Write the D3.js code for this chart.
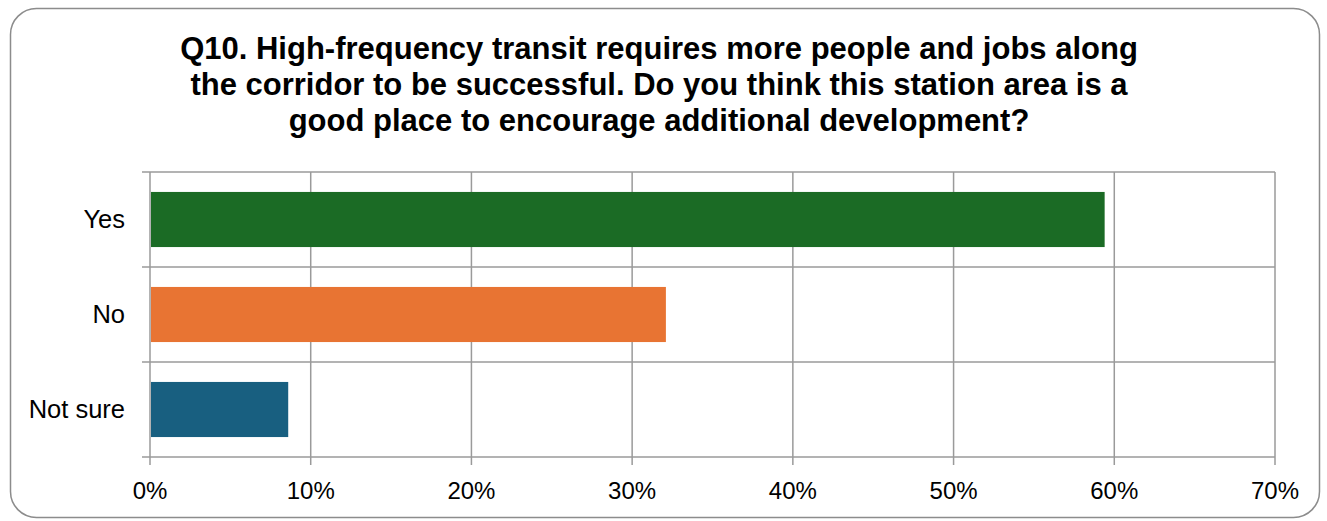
<!DOCTYPE html>
<html>
<head>
<meta charset="utf-8">
<script src="https://cdn.jsdelivr.net/npm/d3@7/dist/d3.min.js"></script>
<style>
  html, body { margin: 0; padding: 0; background: #fff; }
  svg { display: block; font-family: "Liberation Sans", Arial, sans-serif; }
</style>
</head>
<body>
<svg id="chart" width="1327" height="521"></svg>
<script>
// Survey responses (share of respondents)
const categories = ["Yes", "No", "Not sure"];
const values = [0.594, 0.321, 0.086];
const barColors = ["#1b6b25", "#e87433", "#185f80"];
const tickValues = [0, 0.1, 0.2, 0.3, 0.4, 0.5, 0.6, 0.7];
const titleLines = [
  "Q10. High-frequency transit requires more people and jobs along",
  "the corridor to be successful. Do you think this station area is a",
  "good place to encourage additional development?"
];

const svg = d3.select("#chart");
const W = 1327, H = 521;

// Rounded outer frame
svg.append("rect")
  .attr("x", 10.5).attr("y", 8.5)
  .attr("width", W - 18).attr("height", H - 12)
  .attr("rx", 26).attr("ry", 26)
  .attr("fill", "#fff")
  .attr("stroke", "#8c8c8c")
  .attr("stroke-width", 1.5);

// Title
svg.append("g").selectAll("text")
  .data(titleLines)
  .join("text")
  .attr("x", 659)
  .attr("y", (d, i) => 59 + i * 36)
  .attr("text-anchor", "middle")
  .attr("font-size", 31)
  .attr("font-weight", "bold")
  .attr("fill", "#000")
  .text(d => d);

const plot = { left: 150, right: 1275, top: 172, bottom: 457 };

const x = d3.scaleLinear().domain([0, 0.7]).range([plot.left, plot.right]);
const y = d3.scaleBand().domain(categories)
  .range([plot.top, plot.bottom])
  .paddingInner(0.42).paddingOuter(0.21);

const gridColor = "#9a9a9a";

// Vertical gridlines with tick marks below the plot
svg.append("g").selectAll("line")
  .data(tickValues)
  .join("line")
  .attr("x1", d => x(d)).attr("x2", d => x(d))
  .attr("y1", plot.top).attr("y2", plot.bottom + 8)
  .attr("stroke", gridColor).attr("stroke-width", 1.5);

// Horizontal band boundaries with tick marks left of the axis
const bandEdges = d3.range(categories.length + 1)
  .map(i => plot.top + i * (plot.bottom - plot.top) / categories.length);
svg.append("g").selectAll("line")
  .data(bandEdges)
  .join("line")
  .attr("x1", plot.left - 8).attr("x2", plot.right)
  .attr("y1", d => d).attr("y2", d => d)
  .attr("stroke", gridColor).attr("stroke-width", 1.5);

// Bars
svg.append("g").selectAll("rect")
  .data(values)
  .join("rect")
  .attr("x", x(0) + 1)
  .attr("y", (d, i) => y(categories[i]))
  .attr("width", d => x(d) - x(0) - 1)
  .attr("height", y.bandwidth())
  .attr("fill", (d, i) => barColors[i]);

// Category labels
svg.append("g").selectAll("text")
  .data(categories)
  .join("text")
  .attr("x", 125)
  .attr("y", d => y(d) + y.bandwidth() / 2 + 8.5)
  .attr("text-anchor", "end")
  .attr("font-size", 25.5)
  .attr("fill", "#000")
  .text(d => d);

// X-axis tick labels
const fmt = d3.format(".0%");
svg.append("g").selectAll("text")
  .data(tickValues)
  .join("text")
  .attr("x", d => x(d))
  .attr("y", 499)
  .attr("text-anchor", "middle")
  .attr("font-size", 24)
  .attr("fill", "#000")
  .text(d => fmt(d));
</script>
</body>
</html>
